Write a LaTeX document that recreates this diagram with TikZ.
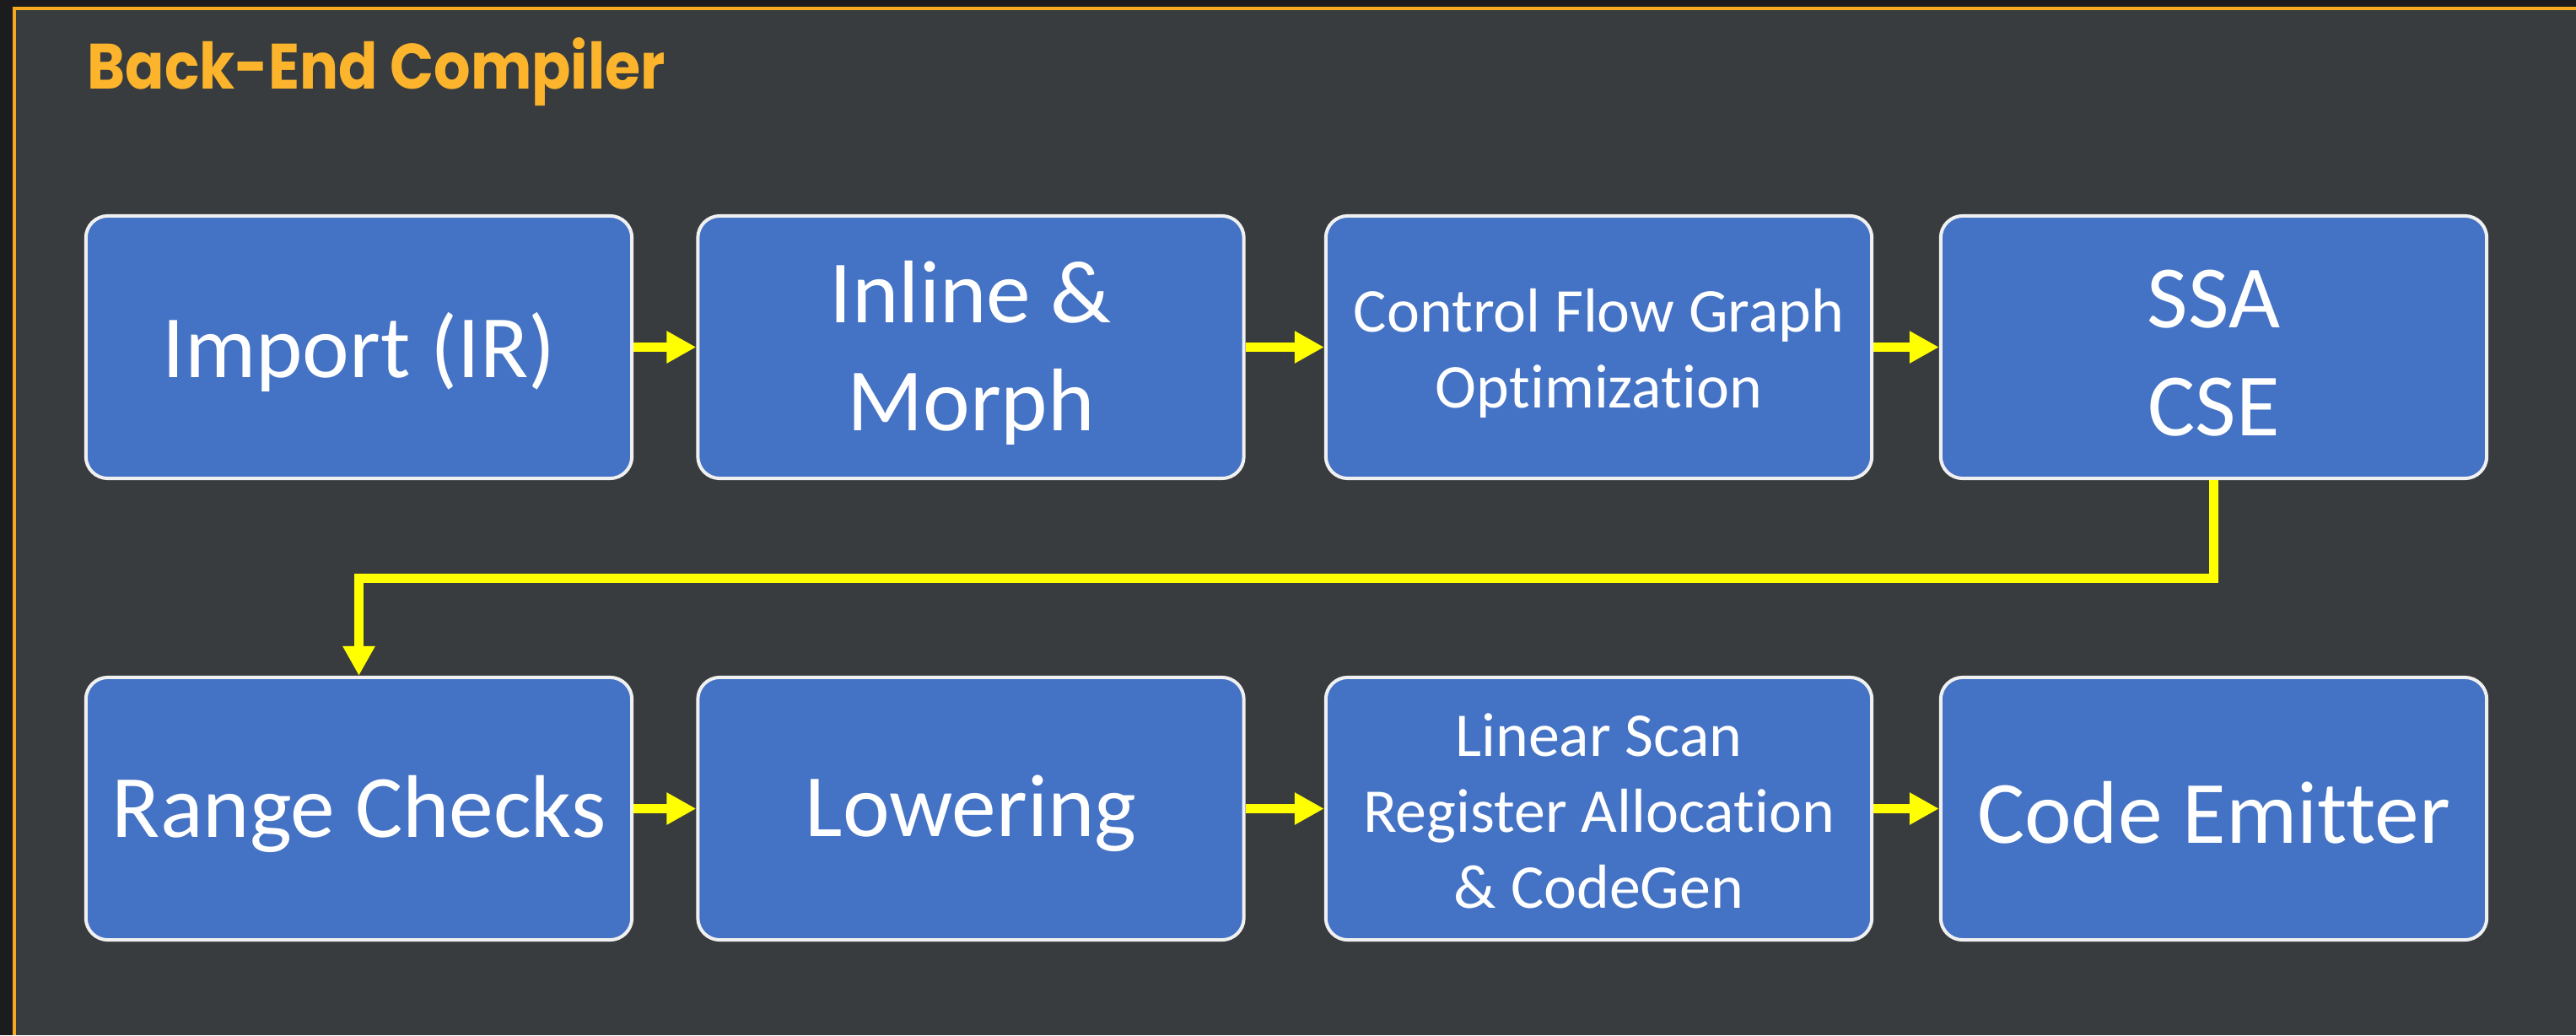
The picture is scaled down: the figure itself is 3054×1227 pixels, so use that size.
\documentclass[tikz,border=0pt]{standalone}
\usepackage{fontspec}
\setmainfont{Carlito}[Ligatures=NoCommon]
\newfontfamily\titlefont{Poppins}
\usetikzlibrary{arrows.meta}
\definecolor{outerbg}{HTML}{1C1C1E}
\definecolor{panelbg}{HTML}{383C3F}
\definecolor{frameorange}{HTML}{F7A91F}
\definecolor{titleorange}{HTML}{FBB42B}
\definecolor{boxblue}{HTML}{4472C4}
\definecolor{boxedge}{HTML}{F0F0F0}
\definecolor{arrowyellow}{HTML}{FFFF00}
\tikzset{
  stagebox/.style={draw=boxedge, line width=0.04cm, fill=boxblue, rounded corners=0.26cm,
    minimum width=6.47cm, minimum height=3.11cm, inner sep=0pt},
  boxtext/.style={text=white, align=center, inner sep=0pt},
  bigtext/.style={font=\fontsize{30}{36.5}\selectfont},
  smalltext/.style={font=\fontsize{21}{25.6}\selectfont},
  flow/.style={draw=arrowyellow, line width=0.11cm, line join=miter,
    -{Triangle[width=0.36cm, length=0.35cm]}},
}
\begin{document}
\begin{tikzpicture}[x=0.01cm, y=-0.01cm]
  \useasboundingbox (0,0) rectangle (3054,1227);
  \fill[outerbg] (0,0) rectangle (3054,1227);
  \fill[panelbg] (17,10) rectangle (3054,1227);
  \draw[frameorange, line width=0.03cm] (17,1227) -- (17,10) -- (3054,10);
  \node[anchor=base west, text=titleorange, inner sep=0pt,
        font=\titlefont\bfseries\fontsize{21.6}{26}\selectfont] (title) at (103,105) {\scalebox{0.9}[1]{Back-End Compiler}};

  % row 1
  \node[stagebox] (imp) at (425.5,411.5) {};
  \node[stagebox] (inl) at (1151,411.5) {};
  \node[stagebox] (cfg) at (1895.5,411.5) {};
  \node[stagebox] (ssa) at (2624.5,411.5) {};
  % row 2
  \node[stagebox] (rng) at (425.5,958.5) {};
  \node[stagebox] (low) at (1151,958.5) {};
  \node[stagebox] (lsr) at (1895.5,958.5) {};
  \node[stagebox] (emi) at (2624.5,958.5) {};

  \node[boxtext, bigtext] (impt) at ([yshift=-0.06cm]imp.center) {Import (IR)};
  \node[boxtext, bigtext] (inlt) at ([yshift=-0.07cm]inl.center) {Inline \&\\Morph};
  \node[boxtext, smalltext] (cfgt) at ([yshift=-0.07cm]cfg.center) {Control Flow Graph\\Optimization};
  \node[boxtext, bigtext] (ssat) at ([yshift=-0.07cm]ssa.center) {SSA\\CSE};
  \node[boxtext, bigtext] (rngt) at ([yshift=-0.06cm]rng.center) {Range Checks};
  \node[boxtext, bigtext] (lowt) at ([yshift=-0.06cm]low.center) {Lowering};
  \node[boxtext, smalltext] (lsrt) at ([yshift=-0.03cm]lsr.center) {Linear Scan\\Register Allocation\\\& CodeGen};
  \node[boxtext, bigtext] (emit) at ([yshift=-0.05cm]emi.center) {Code Emitter};

  \coordinate (mid) at (0,685);
  \draw[flow] (imp) -- (inl);
  \draw[flow] (inl) -- (cfg);
  \draw[flow] (cfg) -- (ssa);
  \draw[flow] (ssa.south) -- (ssa.south |- mid) -| (rng.north);
  \draw[flow] (rng) -- (low);
  \draw[flow] (low) -- (lsr);
  \draw[flow] (lsr) -- (emi);
\end{tikzpicture}
\end{document}
